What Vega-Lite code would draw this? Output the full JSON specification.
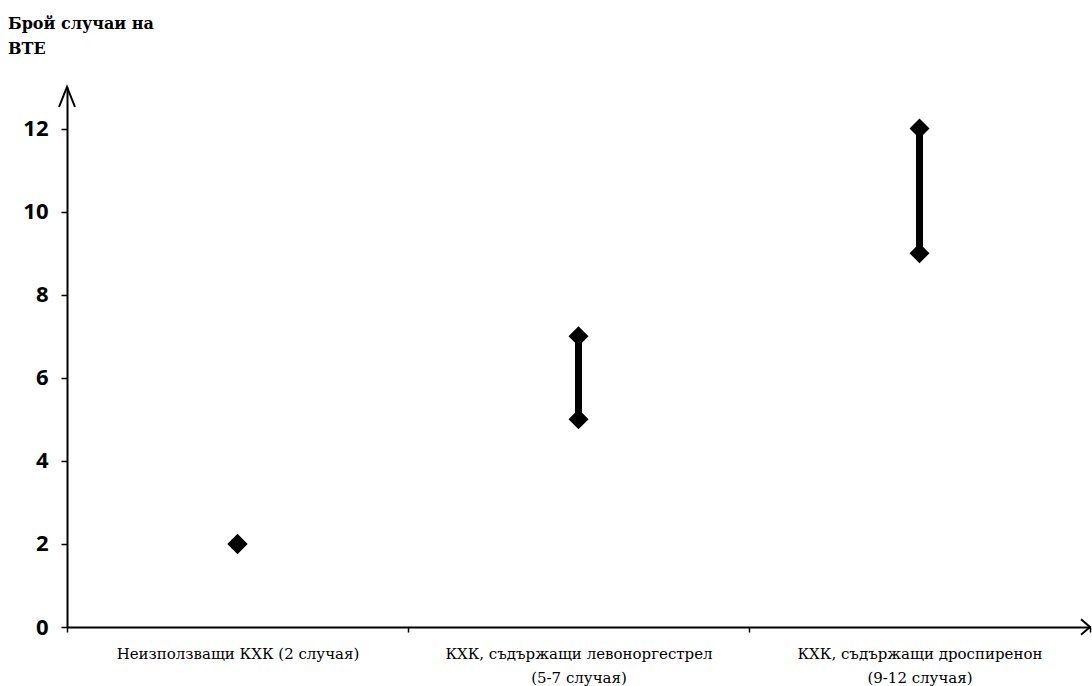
{
  "$schema": "https://vega.github.io/schema/vega-lite/v6.json",
  "width": 1023,
  "height": 540,
  "autosize": {"type": "none"},
  "padding": {"left": 67, "top": 87, "right": 2, "bottom": 59},
  "background": "white",
  "config": {
    "view": {"stroke": null},
    "axis": {
      "grid": false,
      "domainColor": "black",
      "domainWidth": 2,
      "tickColor": "black",
      "tickWidth": 1.5,
      "labelColor": "black",
      "title": null
    }
  },
  "title": {
    "text": ["Брой случаи на", "ВТЕ"],
    "font": "DejaVu Serif",
    "fontSize": 16,
    "fontWeight": "bold",
    "color": "black",
    "anchor": "start",
    "frame": "group",
    "dx": -59,
    "lineHeight": 25,
    "offset": 26
  },
  "datasets": {
    "vte": [
      {"group": "Неизползващи КХК (2 случая)", "low": 2, "high": 2},
      {"group": "КХК, съдържащи левоноргестрел (5-7 случая)", "low": 5, "high": 7},
      {"group": "КХК, съдържащи дроспиренон (9-12 случая)", "low": 9, "high": 12}
    ]
  },
  "data": {"name": "vte"},
  "encoding": {
    "x": {
      "field": "group",
      "type": "nominal",
      "sort": null,
      "scale": {"paddingInner": 0, "paddingOuter": 0},
      "axis": {
        "labelAngle": 0,
        "tickBand": "extent",
        "tickSize": 5,
        "labelPadding": 14,
        "labelFont": "DejaVu Serif",
        "labelFontSize": 15,
        "labelLineHeight": 24,
        "labelLimit": 400,
        "labelExpr": "indexof(datum.label, 'КХК,') == 0 ? split(replace(datum.label, ' (', '|('), '|') : datum.label"
      }
    }
  },
  "layer": [
    {
      "mark": {"type": "rule", "strokeWidth": 7, "color": "black"},
      "encoding": {
        "y": {
          "field": "low",
          "type": "quantitative",
          "scale": {"domain": [0, 13], "nice": false},
          "axis": {
            "values": [0, 2, 4, 6, 8, 10, 12],
            "tickSize": 6,
            "labelPadding": 13,
            "labelFont": "Open Sans",
            "labelFontSize": 22,
            "labelFontWeight": "bold"
          }
        },
        "y2": {"field": "high"}
      }
    },
    {
      "mark": {"type": "point", "shape": "diamond", "filled": true, "size": 400, "color": "black", "opacity": 1},
      "encoding": {"y": {"field": "low", "type": "quantitative"}}
    },
    {
      "mark": {"type": "point", "shape": "diamond", "filled": true, "size": 400, "color": "black", "opacity": 1},
      "encoding": {"y": {"field": "high", "type": "quantitative"}}
    },
    {
      "data": {"values": [{}]},
      "mark": {"type": "point", "shape": "M-0.4,1L0,0L0.4,1", "filled": false, "size": 1600, "stroke": "black", "strokeWidth": 2, "opacity": 1},
      "encoding": {
        "x": {"datum": "Неизползващи КХК (2 случая)", "bandPosition": 0},
        "y": {"datum": 13}
      }
    },
    {
      "data": {"values": [{}]},
      "mark": {"type": "point", "shape": "M-1,-0.85L0,0L-1,0.85", "filled": false, "size": 324, "stroke": "black", "strokeWidth": 2, "opacity": 1},
      "encoding": {
        "x": {"datum": "КХК, съдържащи дроспиренон (9-12 случая)", "bandPosition": 1},
        "y": {"datum": 0}
      }
    }
  ]
}
